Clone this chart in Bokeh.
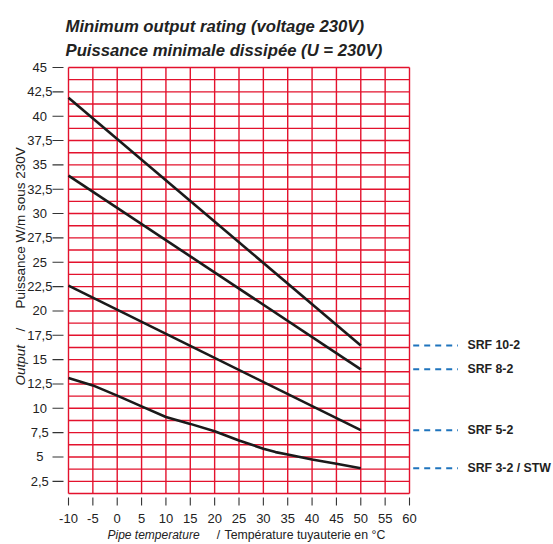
import math
from bokeh.plotting import figure
from bokeh.models import Range1d
from bokeh.core.properties import value
from bokeh.embed import file_html
from bokeh.resources import INLINE

# ---------------- data ----------------
title_lines = ["Minimum output rating (voltage 230V)",
               "Puissance minimale dissipée (U = 230V)"]

x_ticks = [-10, -5, 0, 5, 10, 15, 20, 25, 30, 35, 40, 45, 50, 55, 60]
x_tick_labels = ["-10", "-5", "0", "5", "10", "15", "20", "25", "30",
                 "35", "40", "45", "50", "55", "60"]

y_ticks = [2.5, 5, 7.5, 10, 12.5, 15, 17.5, 20, 22.5, 25, 27.5, 30,
           32.5, 35, 37.5, 40, 42.5, 45]
y_tick_labels = ["2,5", "5", "7,5", "10", "12,5", "15", "17,5", "20", "22,5",
                 "25", "27,5", "30", "32,5", "35", "37,5", "40", "42,5", "45"]

y_grid = [1.25, 2.5, 3.75, 5, 6.25, 7.5, 8.75, 10, 11.25, 12.5, 13.75, 15,
          16.25, 17.5, 18.75, 20, 21.25, 22.5, 23.75, 25, 26.25, 27.5, 28.75,
          30, 31.25, 32.5, 33.75, 35, 36.25, 37.5, 38.75, 40, 41.25, 42.5,
          43.75, 45]

series_names = ["SRF 10-2", "SRF 8-2", "SRF 5-2", "SRF 3-2 / STW"]

srf10_t = [-10, 50]
srf10_w = [41.9, 16.45]

srf8_t = [-10, 50]
srf8_w = [33.9, 14.0]

srf5_t = [-10, 50]
srf5_w = [22.6, 7.75]

srf3_t = [-10, -5, 0, 5, 10, 15, 20, 25, 30, 32.5, 35, 40, 45, 50]
srf3_w = [13.1, 12.35, 11.3, 10.2, 9.1, 8.4, 7.65, 6.7, 5.85, 5.5, 5.25,
          4.75, 4.3, 3.85]

x_label_it = "Pipe temperature"
x_label_rest = "Température tuyauterie en °C"
y_label_it = "Output"
y_label_rest = "Puissance W/m sous 230V"

# ---------------- layout (pixels of the page) ----------------
W, H = 553, 544
GX0, GX1 = 68, 409      # grid left / right
GY0, GY1 = 67, 493      # grid top / bottom
px_per_x = (GX1 - GX0) / (x_ticks[-1] - x_ticks[0])
px_per_y = (GY1 - GY0) / (y_grid[-1] - y_grid[0])
x_start = x_ticks[0] - GX0 / px_per_x
x_end = x_start + W / px_per_x
y_top = y_grid[-1] + GY0 / px_per_y
y_bot = y_top - H / px_per_y


def X(px):
    return x_start + px / px_per_x


def Y(py):
    return y_top - py / px_per_y


RED = "#e3122d"
INK = "#222222"
BLUE = "#1f74bd"
FONT = "Liberation Sans"

p = figure(width=W, height=H, output_backend="svg", toolbar_location=None,
           x_range=Range1d(x_start, x_end), y_range=Range1d(y_bot, y_top),
           x_axis_location=None, y_axis_location=None, min_border=0,
           title=None)
p.outline_line_color = None
p.grid.visible = False
p.background_fill_color = "white"
p.border_fill_color = "white"

# grid
n_x = len(x_ticks)
n_y = len(y_grid)
p.segment(x0=x_ticks, y0=[y_grid[0]] * n_x, x1=x_ticks, y1=[y_grid[-1]] * n_x,
          line_color=RED, line_width=1.4)
p.segment(x0=[x_ticks[0]] * n_y, y0=y_grid, x1=[x_ticks[-1]] * n_y, y1=y_grid,
          line_color=RED, line_width=1.4)

# ticks and tick labels
n_yt = len(y_ticks)
p.segment(x0=x_ticks, y0=[Y(497)] * n_x, x1=x_ticks, y1=[Y(505)] * n_x,
          line_color="#333333", line_width=1.1)
p.segment(x0=[X(52)] * n_yt, y0=y_ticks, x1=[X(63)] * n_yt, y1=y_ticks,
          line_color="#333333", line_width=1.1)
p.text(x=x_ticks, y=[Y(518)] * n_x, text=x_tick_labels, text_font=value(FONT),
       text_font_size="13px", text_color=INK, text_align="center",
       text_baseline="alphabetic")
p.text(x=[X(39.3)] * n_yt, y=y_ticks, text=y_tick_labels, text_font=value(FONT),
       text_font_size="13px", text_color=INK, text_align="center",
       text_baseline="middle")

# curves
for t, w in [(srf10_t, srf10_w), (srf8_t, srf8_w), (srf5_t, srf5_w), (srf3_t, srf3_w)]:
    p.line(t, w, line_color="#1a1a1a", line_width=2.6)

# legend: dashes + names at the end value of each curve
ends = [srf10_w[-1], srf8_w[-1], srf5_w[-1], srf3_w[-1]]
p.segment(x0=[X(412.7)] * 4, y0=ends, x1=[X(457.5)] * 4, y1=ends,
          line_color=BLUE, line_width=2, line_dash="6 5")
p.text(x=[X(467)] * 4, y=ends, text=series_names, text_font=value(FONT),
       text_font_style="bold", text_font_size="12.3px", text_color=INK,
       text_baseline="middle", text_align="left")

# titles
for line, base in zip(title_lines, [26, 49.5]):
    p.text(x=[X(65)], y=[Y(base)], text=[line], text_font=value(FONT),
           text_font_style="bold italic", text_font_size="16.7px", text_color=INK,
           text_baseline="alphabetic", text_align="left")

# x axis title
xb = Y(534)
p.text(x=[X(107)], y=[xb], text=[x_label_it], text_font=value(FONT),
       text_font_style="italic", text_font_size="12px", text_color=INK,
       text_baseline="alphabetic", text_align="left")
p.text(x=[X(218)], y=[xb], text=["/"], text_font=value(FONT),
       text_font_size="12.3px", text_color=INK,
       text_baseline="alphabetic", text_align="center")
p.text(x=[X(224)], y=[xb], text=[x_label_rest], text_font=value(FONT),
       text_font_size="12.3px", text_color=INK,
       text_baseline="alphabetic", text_align="left")

# y axis title (rotated)
yb = X(20)
p.text(x=[yb], y=[Y(385)], text=[y_label_it], angle=math.pi / 2,
       text_font=value(FONT), text_font_style="italic", text_font_size="13.5px",
       text_color=INK, text_baseline="alphabetic", text_align="left")
p.text(x=[yb], y=[Y(329)], text=["/"], angle=math.pi / 2,
       text_font=value(FONT), text_font_size="13.5px",
       text_color=INK, text_baseline="alphabetic", text_align="center")
p.text(x=[yb], y=[Y(308)], text=[y_label_rest], angle=math.pi / 2,
       text_font=value(FONT), text_font_size="13.5px",
       text_color=INK, text_baseline="alphabetic", text_align="left")

open("out.html", "w").write(file_html(p, INLINE))
